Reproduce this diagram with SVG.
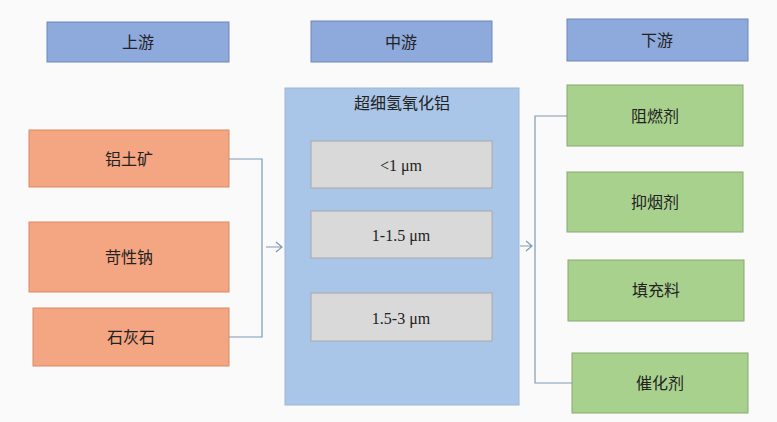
<svg xmlns="http://www.w3.org/2000/svg" width="777" height="422" viewBox="0 0 777 422">
<style>
text{font-family:"Liberation Serif","Noto Sans CJK SC",serif;font-size:16px;text-anchor:middle;dominant-baseline:central;fill:#222}
.h{fill:#8ea9dc;stroke:#6f86b8}
.o{fill:#f4a582;stroke:#d98a66}
.g{fill:#a9d18e;stroke:#86a86e}
.s{fill:#d9d9d9;stroke:#a8a8a8}
.c{fill:none;stroke:#7f9ab3;stroke-width:1.2}
</style>
<rect width="777" height="422" fill="#fafafa"/>
<g id="up"><rect class="h" x="47" y="22" width="182" height="40"/><text x="138" y="42">上游</text></g>
<g id="mid"><rect class="h" x="311" y="21" width="181" height="41"/><text x="401" y="42">中游</text></g>
<g id="down"><rect class="h" x="567" y="19" width="181" height="42"/><text x="657" y="40">下游</text></g>
<g id="main"><rect x="285" y="88" width="234" height="317" fill="#a9c6e8" stroke="#9ab6d8"/><text x="402" y="103" fill="#3a4a66">超细氢氧化铝</text></g>
<g id="s1"><rect class="s" x="311" y="141" width="181" height="47"/><text x="401" y="165">&lt;1 μm</text></g>
<g id="s2"><rect class="s" x="311" y="211" width="181" height="47"/><text x="401" y="235">1-1.5 μm</text></g>
<g id="s3"><rect class="s" x="311" y="293" width="181" height="48"/><text x="401" y="318">1.5-3 μm</text></g>
<g id="o1"><rect class="o" x="29" y="130" width="200" height="57"/><text x="129" y="159">铝土矿</text></g>
<g id="o2"><rect class="o" x="29" y="222" width="200" height="70"/><text x="129" y="257">苛性钠</text></g>
<g id="o3"><rect class="o" x="33" y="308" width="196" height="58"/><text x="131" y="337">石灰石</text></g>
<g id="g1"><rect class="g" x="567" y="85" width="176" height="61"/><text x="655" y="116">阻燃剂</text></g>
<g id="g2"><rect class="g" x="567" y="172" width="176" height="60"/><text x="655" y="202">抑烟剂</text></g>
<g id="g3"><rect class="g" x="568" y="260" width="176" height="61"/><text x="656" y="290">填充料</text></g>
<g id="g4"><rect class="g" x="572" y="353" width="176" height="60"/><text x="660" y="383">催化剂</text></g>
<g id="connectors">
<path class="c" d="M229 159H262V337H229"/>
<path class="c" d="M266 247H282M276 242L282 247L276 252"/>
<path class="c" d="M520 246H532M526 241L532 246L526 251"/>
<path class="c" d="M567 116H535V383H572"/>
</g>
</svg>
